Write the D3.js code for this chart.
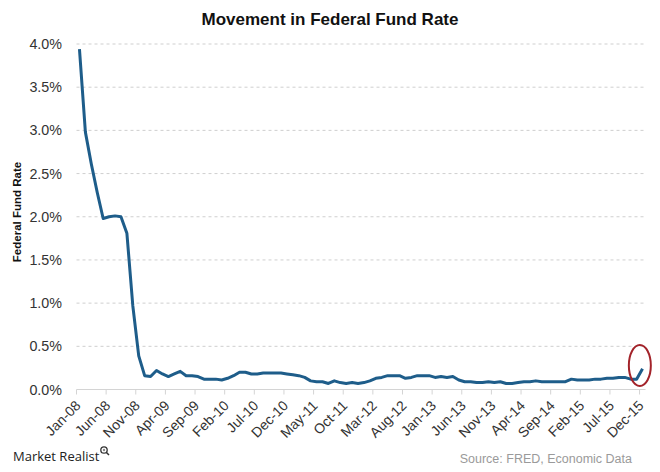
<!DOCTYPE html>
<html>
<head>
<meta charset="utf-8">
<script src="https://cdn.jsdelivr.net/npm/d3@7/dist/d3.min.js"></script>
<style>
  html, body { margin: 0; padding: 0; background: #fff; }
  svg { display: block; }
</style>
</head>
<body>
<svg id="chart" width="660" height="472"></svg>
<script>
// ---- Data (monthly, Jan-08 .. Dec-15) ----
const years = ["08", "09", "10", "11", "12", "13", "14", "15"];
const monthNames = ["Jan","Feb","Mar","Apr","May","Jun","Jul","Aug","Sep","Oct","Nov","Dec"];
const rate2008 = [3.94, 2.98, 2.61, 2.28, 1.98, 2.00, 2.01, 2.00, 1.81, 0.97, 0.39, 0.16];
const rate2009 = [0.15, 0.22, 0.18, 0.15, 0.18, 0.21, 0.16, 0.16, 0.15, 0.12, 0.12, 0.12];
const rate2010 = [0.11, 0.13, 0.16, 0.20, 0.20, 0.18, 0.18, 0.19, 0.19, 0.19, 0.19, 0.18];
const rate2011 = [0.17, 0.16, 0.14, 0.10, 0.09, 0.09, 0.07, 0.10, 0.08, 0.07, 0.08, 0.07];
const rate2012 = [0.08, 0.10, 0.13, 0.14, 0.16, 0.16, 0.16, 0.13, 0.14, 0.16, 0.16, 0.16];
const rate2013 = [0.14, 0.15, 0.14, 0.15, 0.11, 0.09, 0.09, 0.08, 0.08, 0.09, 0.08, 0.09];
const rate2014 = [0.07, 0.07, 0.08, 0.09, 0.09, 0.10, 0.09, 0.09, 0.09, 0.09, 0.09, 0.12];
const rate2015 = [0.11, 0.11, 0.11, 0.12, 0.12, 0.13, 0.13, 0.14, 0.14, 0.12, 0.12, 0.24];
const yTicks = [0, 0.5, 1.0, 1.5, 2.0, 2.5, 3.0, 3.5, 4.0];
const labelEvery = 5;

const categories = [];
years.forEach(yr => monthNames.forEach(m => categories.push(m + "-" + yr)));
const values = [].concat(rate2008, rate2009, rate2010, rate2011, rate2012, rate2013, rate2014, rate2015);
const data = categories.map((c, i) => ({ c, v: values[i] }));
const tickCats = categories.filter((c, i) => i % labelEvery === 0);

// ---- Layout ----
const svg = d3.select("#chart");
const plotLeft = 76.5, plotRight = 645.5, plotTop = 44, plotBottom = 389.5;

const x = d3.scaleBand().domain(categories).range([plotLeft, plotRight]).padding(0);
const y = d3.scaleLinear().domain([0, 4]).range([plotBottom, plotTop]);
const cx = c => x(c) + x.bandwidth() / 2;

// Title
svg.append("text")
  .attr("x", 330).attr("y", 25)
  .attr("text-anchor", "middle")
  .attr("font-family", "Liberation Sans, Arial, sans-serif")
  .attr("font-weight", "bold")
  .attr("font-size", 17)
  .attr("fill", "#111")
  .text("Movement in Federal Fund Rate");

// Gridlines
svg.append("g")
  .selectAll("line")
  .data(yTicks.filter(t => t > 0))
  .join("line")
  .attr("x1", plotLeft).attr("x2", plotRight)
  .attr("y1", d => y(d)).attr("y2", d => y(d))
  .attr("stroke", "#cfcfcf")
  .attr("stroke-width", 1)
  .attr("stroke-dasharray", "3,3");

// Y axis labels
const yAxis = d3.axisLeft(y).tickValues(yTicks).tickSize(0).tickPadding(0)
  .tickFormat(d => d.toFixed(1) + "%");
const gy = svg.append("g").attr("transform", `translate(62,0)`).call(yAxis);
gy.select(".domain").remove();
gy.selectAll("text")
  .attr("font-family", "Liberation Sans, Arial, sans-serif")
  .attr("font-size", 14.3)
  .attr("fill", "#333");

// X axis
const xAxis = d3.axisBottom(x).tickValues(tickCats).tickSize(5).tickSizeOuter(0);
const gx = svg.append("g").attr("transform", `translate(0,${plotBottom})`).call(xAxis);
gx.select(".domain").attr("stroke", "#d4d4d4").attr("d", `M${plotLeft},0H${plotRight}`);
gx.selectAll(".tick").attr("transform", d => `translate(${x(d)},0)`);
gx.selectAll(".tick line").attr("stroke", "#d4d4d4");
gx.selectAll(".tick text")
  .attr("font-family", "Liberation Sans, Arial, sans-serif")
  .attr("font-size", 14)
  .attr("fill", "#333")
  .attr("text-anchor", "end")
  .attr("dy", null)
  .attr("y", null)
  .attr("transform", "translate(5,17) rotate(-45)");

// Y axis title
svg.append("text")
  .attr("transform", "translate(21,212) rotate(-90)")
  .attr("text-anchor", "middle")
  .attr("font-family", "Liberation Sans, Arial, sans-serif")
  .attr("font-weight", "bold")
  .attr("font-size", 11.5)
  .attr("fill", "#111")
  .text("Federal Fund Rate");

// Line
const line = d3.line().x(d => cx(d.c)).y(d => y(d.v));
svg.append("path")
  .datum(data)
  .attr("d", line)
  .attr("fill", "none")
  .attr("stroke", "#1e5d8a")
  .attr("stroke-width", 3)
  .attr("stroke-linejoin", "round");

// Highlight ellipse around last point
const last = data[data.length - 1];
svg.append("ellipse")
  .attr("cx", cx(last.c) - 2.7)
  .attr("cy", y(last.v) - 3.3)
  .attr("rx", 11)
  .attr("ry", 20.5)
  .attr("fill", "none")
  .attr("stroke", "#a3232a")
  .attr("stroke-width", 2);

// Footer: source
svg.append("text")
  .attr("x", 632).attr("y", 463)
  .attr("text-anchor", "end")
  .attr("font-family", "Liberation Sans, Arial, sans-serif")
  .attr("font-size", 12.5)
  .attr("fill", "#9a9a9a")
  .text("Source: FRED, Economic Data");

// Footer: logo
svg.append("text")
  .attr("x", 13).attr("y", 461)
  .attr("font-family", "Open Sans, sans-serif")
  .attr("font-size", 13)
  .attr("fill", "#222")
  .text("Market Realist");
const icon = svg.append("g").attr("transform", "translate(104,450)");
icon.append("circle").attr("r", 3.2).attr("fill", "none").attr("stroke", "#333").attr("stroke-width", 1.3);
icon.append("line").attr("x1", 2.2).attr("y1", 2.2).attr("x2", 5).attr("y2", 5).attr("stroke", "#333").attr("stroke-width", 1.5);
icon.append("circle").attr("r", 1.2).attr("fill", "#888");
</script>
</body>
</html>
